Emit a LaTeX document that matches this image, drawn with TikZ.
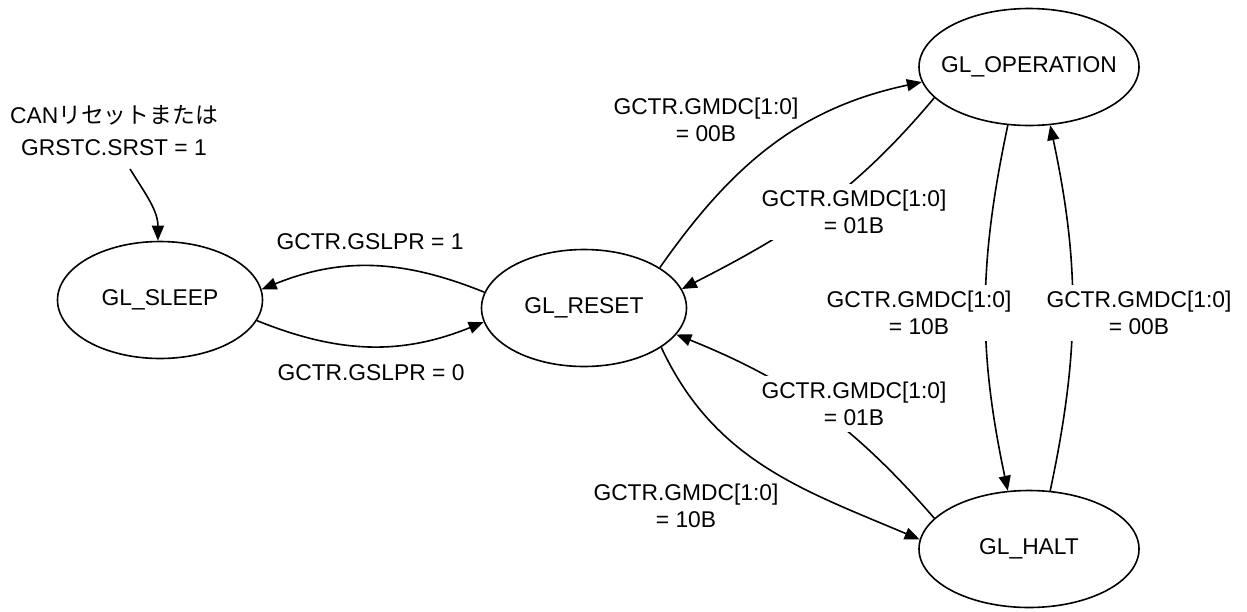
\documentclass[tikz,border=0pt]{standalone}
\usepackage{fontspec}
\setmainfont{Liberation Sans}
\newfontfamily\jpfont{Noto Sans CJK JP}
\usetikzlibrary{shapes.geometric,arrows.meta,positioning,calc}
\def\statesmallwidth{102.5pt}
\def\statewidth{110pt}
\def\stateheight{58.5pt}
\tikzset{
  state/.style={ellipse,draw,line width=0.8pt,minimum height=\stateheight,inner sep=0pt},
  trans/.style={line width=0.8pt,-{Triangle[length=7.5pt,width=6pt]}},
  cond/.style={align=center,inner sep=3pt},
  condon/.style={cond,fill=white}
}

\begin{document}
\begin{tikzpicture}[x=0.5pt,y=0.5pt,font=\fontsize{11.4}{13.5}\selectfont]
  \useasboundingbox (0,0) rectangle (1247,-611);

  \node[state,minimum width=\statesmallwidth,label=center:{GL\_SLEEP}] (sleep) at (160,-300) {};
  \node[state,minimum width=\statesmallwidth,label=center:{GL\_RESET}] (reset) at (584,-308) {};
  \node[state,minimum width=\statewidth,label=center:{GL\_OPERATION}] (operation) at (1029,-67) {};
  \node[state,minimum width=\statewidth,label=center:{GL\_HALT}] (halt) at (1029,-549) {};

  \coordinate (canfrom) at (130,-169);

  \draw[trans] (canfrom) to[out=302,in=90] (sleep.92);
  \draw[trans] (reset.171) to[out=158,in=22] (sleep.6);
  \draw[trans] (sleep.348) to[out=-22,in=202] (reset.188);
  \draw[trans] (reset.28) to[out=55,in=192] (operation.188);
  \draw[trans] (operation.198) to[out=230,in=27] (reset.11);
  \draw[trans] (reset.333) to[out=295,in=157] (halt.175);
  \draw[trans] (halt.162) to[out=131,in=338] (reset.344);
  \draw[trans] (operation.250) to[out=258,in=102] (halt.110);
  \draw[trans] (halt.70) to[out=78,in=282] (operation.290);

  \node[cond,font=\fontsize{11.4}{16}\selectfont] (canreset) at (114,-131) {CAN{\jpfont リセットまたは}\\GRSTC.SRST = 1};
  \node[cond] (gslpr1) at (370,-242) {GCTR.GSLPR = 1};
  \node[cond] (gslpr0) at (371,-373) {GCTR.GSLPR = 0};
  \node[cond] (gmdc00a) at (706,-120) {GCTR.GMDC[1:0]\\= 00B};
  \node[condon] (gmdc01a) at (854,-212) {GCTR.GMDC[1:0]\\= 01B};
  \node[condon] (gmdc01b) at (854,-404) {GCTR.GMDC[1:0]\\= 01B};
  \node[cond] (gmdc10a) at (686,-506) {GCTR.GMDC[1:0]\\= 10B};
  \node[condon] (gmdc10b) at (919,-313) {GCTR.GMDC[1:0]\\= 10B};
  \node[condon] (gmdc00b) at (1139,-313) {GCTR.GMDC[1:0]\\= 00B};

\end{tikzpicture}
\end{document}
